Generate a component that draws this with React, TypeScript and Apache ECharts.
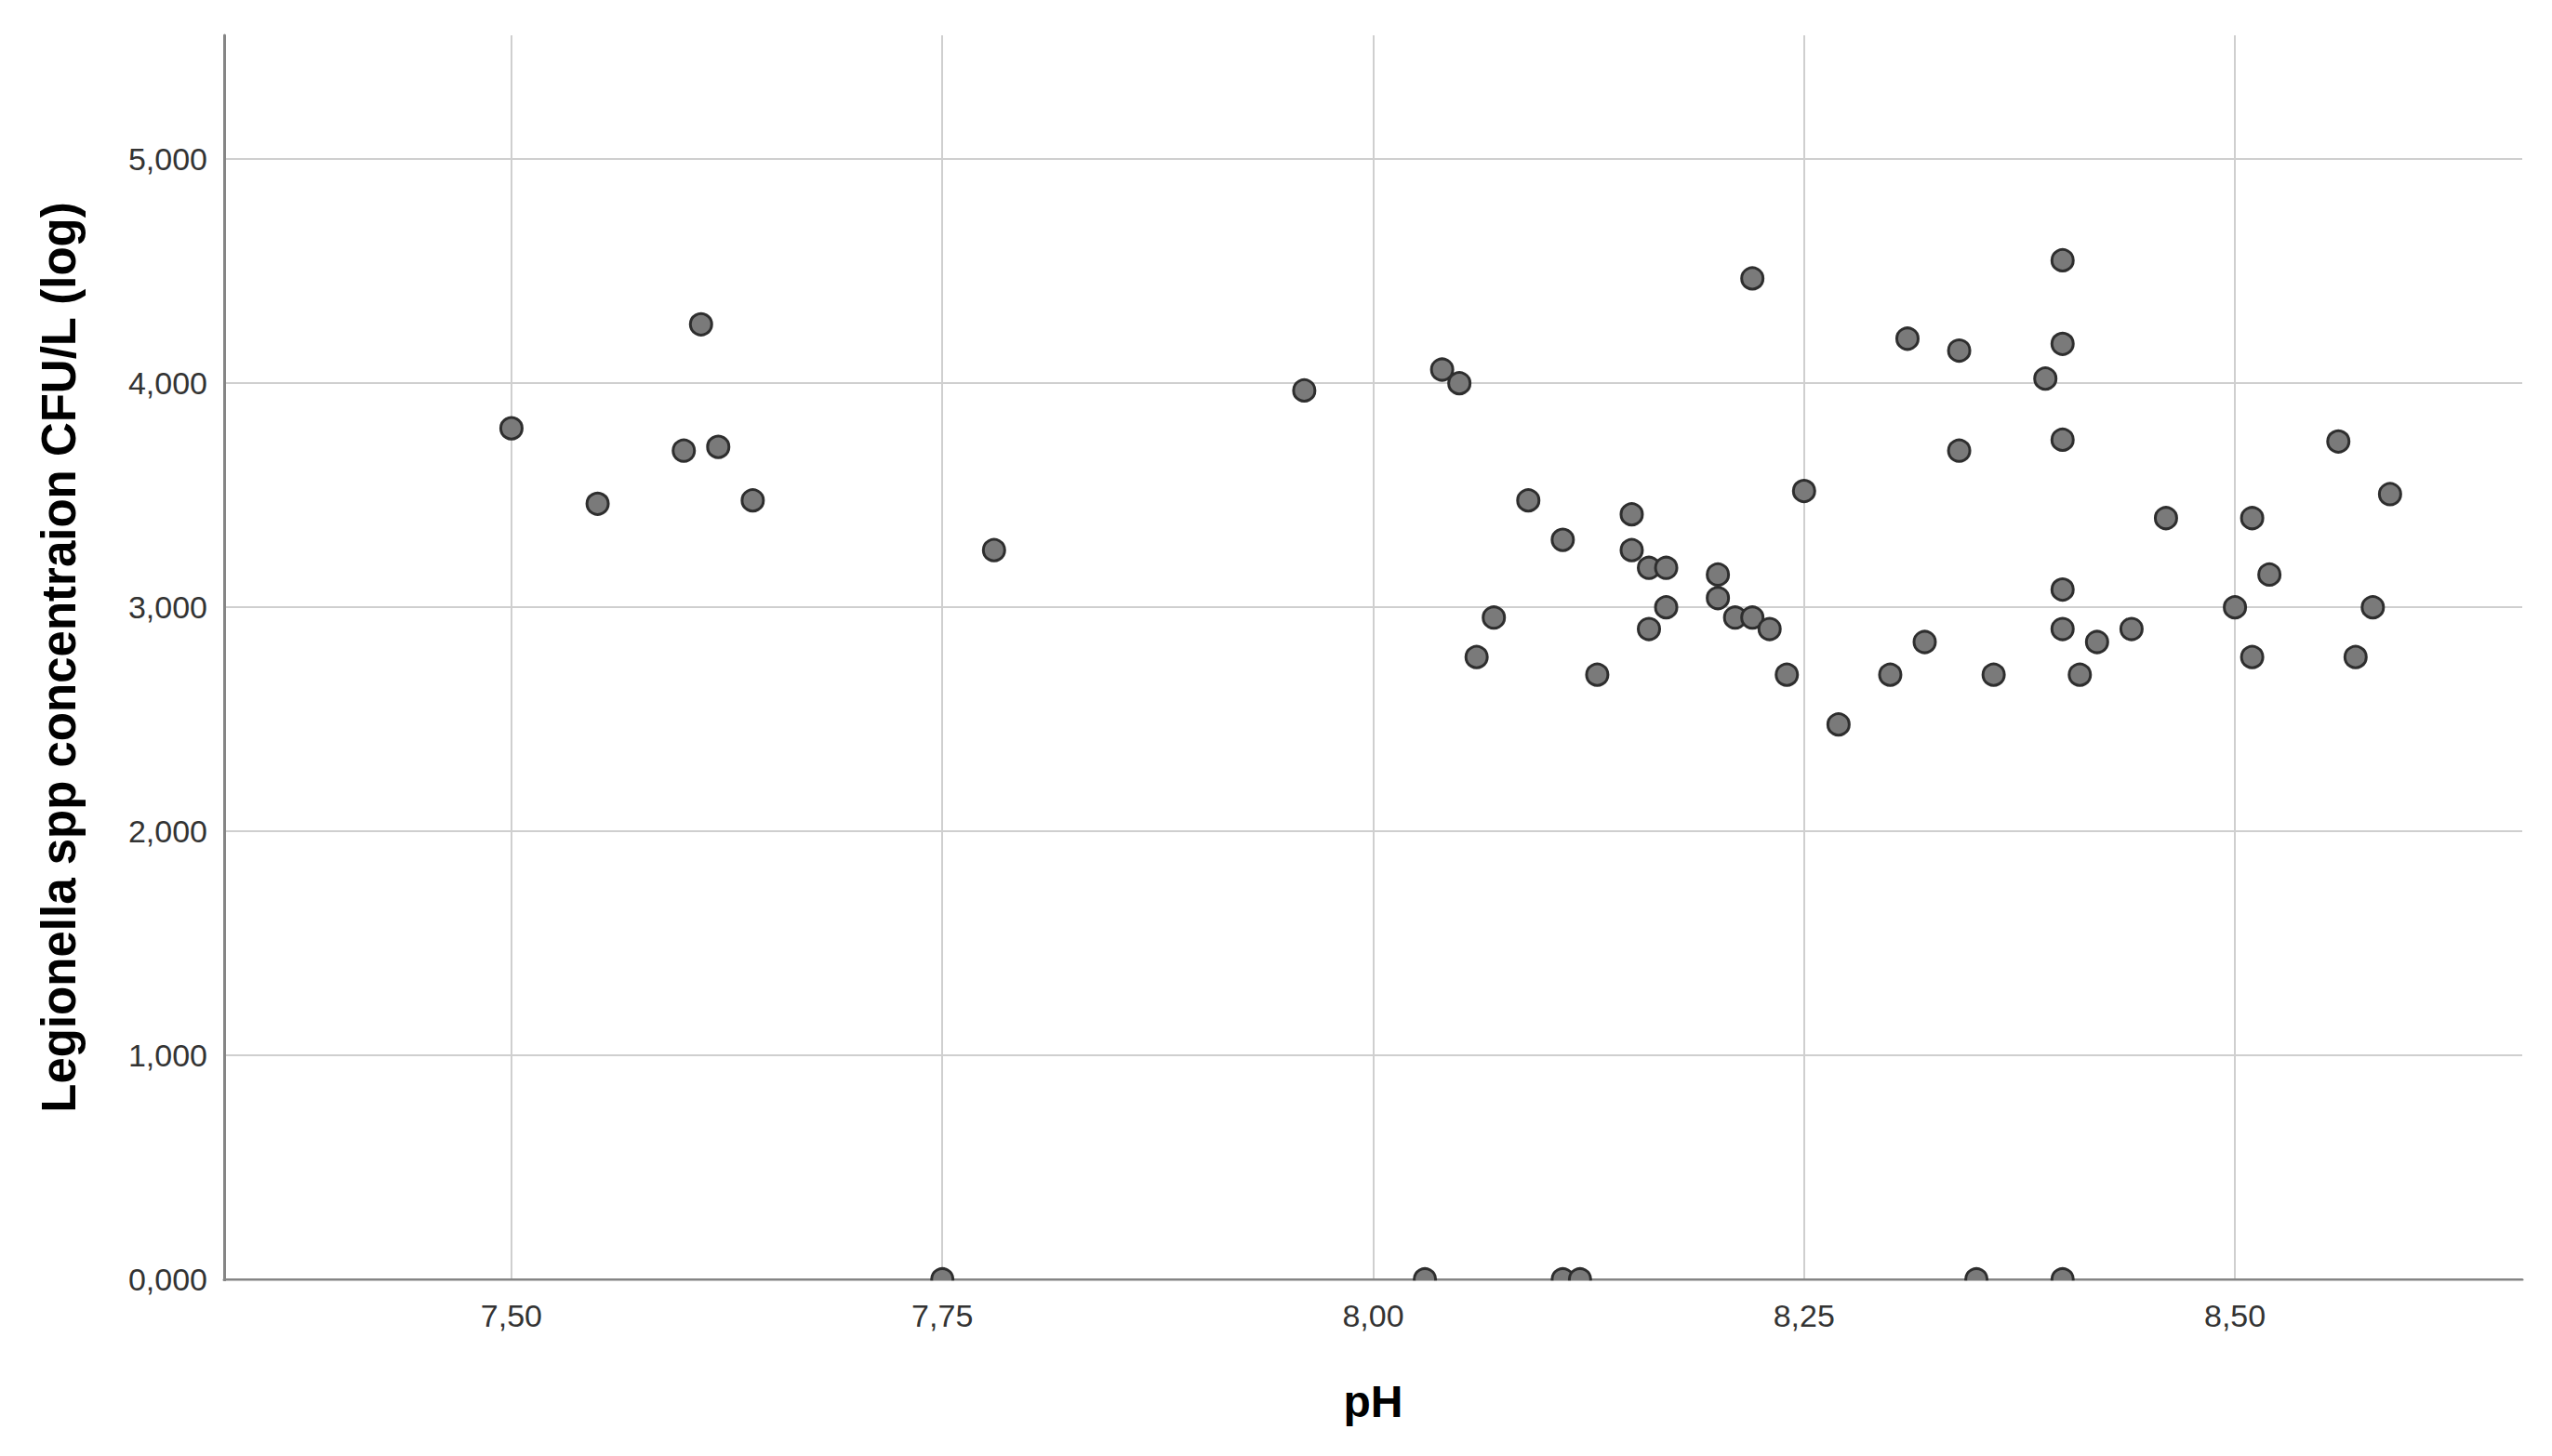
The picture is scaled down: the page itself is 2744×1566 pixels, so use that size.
import React, { useEffect, useRef } from "react";
import * as echarts from "echarts";

// pH of each sample (x)
const phValues = [
  7.5, 7.55, 7.6, 7.61, 7.62, 7.64, 7.75, 7.78, 7.96, 8.03,
  8.04, 8.05, 8.06, 8.07, 8.09, 8.11, 8.11, 8.12, 8.13, 8.15,
  8.15, 8.16, 8.17, 8.16, 8.17, 8.2, 8.2, 8.21, 8.22, 8.22,
  8.23, 8.24, 8.25, 8.27, 8.3, 8.31, 8.32, 8.34, 8.34, 8.35,
  8.36, 8.39, 8.4, 8.4, 8.4, 8.4, 8.4, 8.4, 8.41, 8.42,
  8.44, 8.46, 8.5, 8.51, 8.51, 8.52, 8.56, 8.57, 8.58, 8.59,
];

// Legionella spp concentration, log CFU/L (y)
const logCfu = [
  3.799, 3.462, 3.699, 4.263, 3.716, 3.477, 0, 3.255, 3.968, 0,
  4.061, 4.0, 2.778, 2.954, 3.477, 3.301, 0, 0, 2.699, 3.415,
  3.255, 3.176, 3.176, 2.903, 3.0, 3.146, 3.041, 2.954, 2.954, 4.468,
  2.903, 2.699, 3.519, 2.477, 2.699, 4.199, 2.845, 4.146, 3.699, 0,
  2.699, 4.021, 4.549, 4.176, 3.748, 3.079, 2.903, 0, 2.699, 2.845,
  2.903, 3.398, 3.0, 3.398, 2.778, 3.146, 3.74, 2.778, 3.0, 3.505,
];

const xTickValues = [7.5, 7.75, 8.0, 8.25, 8.5];
const yTickValues = [0, 1, 2, 3, 4, 5];
const xTitle = "pH";
const yTitle = "Legionella spp concentraion CFU/L (log)";

const FONT = '"Liberation Sans", Arial, Helvetica, sans-serif';

export default function App() {
  const ref = useRef<HTMLDivElement>(null);

  useEffect(() => {
    const el = ref.current;
    if (!el) return;
    const chart = echarts.init(el, null, { renderer: "svg" });
    const data = phValues.map((x, i) => [x, logCfu[i]]);

    const gridLeft = 241;
    const gridRight = 32;
    const gridTop = 38;
    const gridBottom = 190;
    const H = 1566;
    const W = 2744;
    const axisY = H - gridBottom;

    chart.setOption({
      animation: false,
      backgroundColor: "#ffffff",
      textStyle: { fontFamily: FONT },
      grid: {
        left: gridLeft,
        right: gridRight,
        top: gridTop,
        bottom: gridBottom,
        containLabel: false,
      },
      xAxis: {
        type: "value",
        min: 7.3333,
        max: 8.6667,
        name: xTitle,
        nameLocation: "middle",
        nameGap: 107,
        nameTextStyle: {
          fontFamily: FONT,
          fontSize: 48,
          fontWeight: "bold",
          color: "#000000",
        },
        axisLine: { show: true, lineStyle: { color: "#858585", width: 3 } },
        axisTick: { show: false, customValues: xTickValues },
        axisLabel: {
          customValues: xTickValues,
          fontFamily: FONT,
          fontSize: 34,
          color: "#333333",
          margin: 22,
          formatter: (v: number) => v.toFixed(2).replace(".", ","),
        },
        splitLine: { show: true, lineStyle: { color: "#cfcfcf", width: 2 } },
      },
      yAxis: {
        type: "value",
        min: 0,
        max: 5.553,
        name: yTitle,
        nameLocation: "middle",
        nameRotate: 90,
        nameGap: 152,
        nameTextStyle: {
          fontFamily: FONT,
          fontSize: 51,
          fontWeight: "bold",
          color: "#000000",
        },
        axisLine: { show: true, lineStyle: { color: "#858585", width: 3 } },
        axisTick: { show: false, customValues: yTickValues },
        axisLabel: {
          customValues: yTickValues,
          fontFamily: FONT,
          fontSize: 34,
          color: "#333333",
          margin: 18,
          formatter: (v: number) => v.toFixed(3).replace(".", ","),
        },
        splitLine: { show: true, lineStyle: { color: "#cfcfcf", width: 2 } },
      },
      series: [
        {
          type: "scatter",
          data,
          symbol: "circle",
          symbolSize: 23,
          clip: false,
          itemStyle: {
            color: "#7a7a7a",
            borderColor: "#2e2e2e",
            borderWidth: 3,
            opacity: 1,
          },
          emphasis: { disabled: true },
        },
      ],
      graphic: [
        {
          type: "rect",
          z: 100,
          silent: true,
          shape: { x: gridLeft + 2, y: axisY + 1.5, width: W - gridRight - gridLeft, height: 14 },
          style: { fill: "#ffffff" },
        },
      ],
    });

    return () => chart.dispose();
  }, []);

  return (
    <div
      ref={ref}
      style={{
        position: "fixed",
        left: 0,
        top: 0,
        width: 2744,
        height: 1566,
        background: "#ffffff",
      }}
    />
  );
}
